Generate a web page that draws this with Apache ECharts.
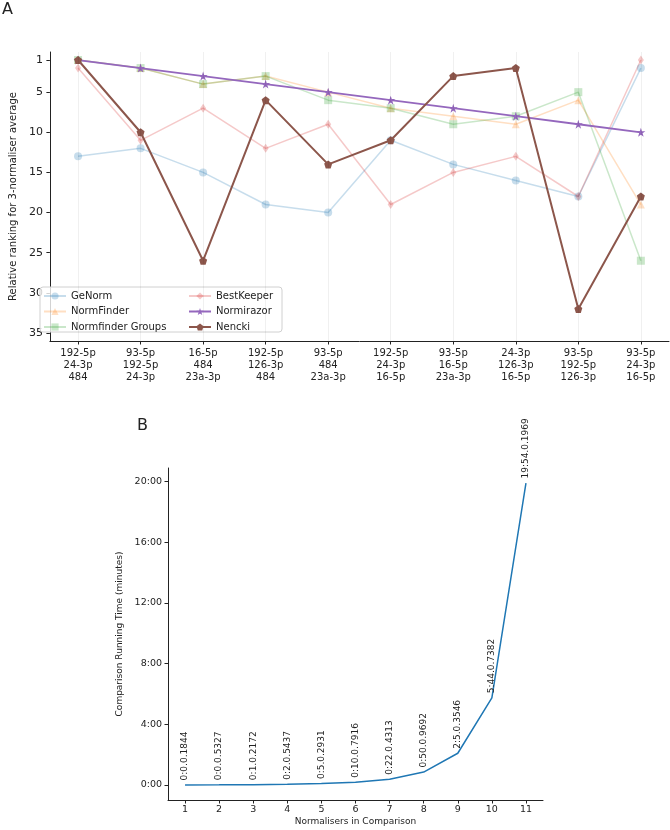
<!DOCTYPE html>
<html><head><meta charset="utf-8">
<script src="https://cdn.jsdelivr.net/npm/echarts@6/dist/echarts.min.js"></script>
<style>html,body{margin:0;padding:0;background:#fff}#c{width:670px;height:830px}</style>
</head><body><div id="c"></div>
<script>
const categories = ['192-5p\n24-3p\n484', '93-5p\n192-5p\n24-3p', '16-5p\n484\n23a-3p', '192-5p\n126-3p\n484', '93-5p\n484\n23a-3p', '192-5p\n24-3p\n16-5p', '93-5p\n16-5p\n23a-3p', '24-3p\n126-3p\n16-5p', '93-5p\n192-5p\n126-3p', '93-5p\n24-3p\n16-5p'];
const geNorm = [13, 12, 15, 19, 20, 11, 14, 16, 18, 2];
const normFinder = [1, 2, 4, 3, 5, 7, 8, 9, 6, 19];
const normfinderGroups = [1, 2, 4, 3, 6, 7, 9, 8, 5, 26];
const bestKeeper = [2, 11, 7, 12, 9, 19, 15, 13, 18, 1];
const normirazor = [1, 2, 3, 4, 5, 6, 7, 8, 9, 10];
const nencki = [1, 10, 26, 6, 14, 11, 3, 2, 32, 18];
const rankTicks = [1, 5, 10, 15, 20, 25, 30, 35];

const normaliserCounts = [1, 2, 3, 4, 5, 6, 7, 8, 9, 10, 11];
const runSeconds = [0.1844, 0.5327, 1.2172, 2.5437, 5.2931, 10.7916, 22.4313, 50.9692, 125.3546, 344.7382, 1194.1969];
const runLabels = ['0:0.0.1844', '0:0.0.5327', '0:1.0.2172', '0:2.0.5437', '0:5.0.2931', '0:10.0.7916', '0:22.0.4313', '0:50.0.9692', '2:5.0.3546', '5:44.0.7382', '19:54.0.1969'];
const timeTicks = [0, 240, 480, 720, 960, 1200];

const FONT = 'DejaVu Sans';
const STAR = 'path://M50,0L61.2,34.5L97.6,34.5L68.2,55.9L79.4,90.5L50,69.1L20.6,90.5L31.8,55.9L2.4,34.5L38.8,34.5Z';
const PENT = 'path://M50,0L97.6,34.5L79.4,90.5L20.6,90.5L2.4,34.5Z';

function rankSeries(name, arr, color, symbol, size, width, faded) {
  return {
    name: name, type: 'line', xAxisIndex: 0, yAxisIndex: 0,
    data: arr.map((v, i) => [i, v]),
    symbol: symbol, symbolSize: size, showSymbol: true,
    lineStyle: { color: color, width: width, opacity: faded ? 0.25 : 1 },
    itemStyle: { color: color, opacity: faded ? 0.25 : 1 },
    emphasis: { disabled: true },
    z: faded ? 2 : 3
  };
}

const series = [
  rankSeries('GeNorm', geNorm, '#1f77b4', 'circle', 8, 1.5, true),
  rankSeries('NormFinder', normFinder, '#ff7f0e', 'triangle', 8, 1.5, true),
  rankSeries('Normfinder Groups', normfinderGroups, '#2ca02c', 'rect', 8, 1.5, true),
  rankSeries('BestKeeper', bestKeeper, '#d62728', 'diamond', [6, 9], 1.5, true),
  rankSeries('Normirazor', normirazor, '#9467bd', STAR, 9, 1.8, false),
  rankSeries('Nencki', nencki, '#8c564b', PENT, 8, 2, false)
];
series[0].markLine = {
  silent: true, symbol: 'none', label: { show: false },
  lineStyle: { color: 'rgba(0,0,0,0.06)', type: 'solid', width: 1 },
  data: categories.map((c, i) => ({ xAxis: i }))
};

series.push({
  name: 'time', type: 'line', xAxisIndex: 1, yAxisIndex: 1,
  data: runSeconds.map((v, i) => [normaliserCounts[i], v]),
  symbol: 'circle', symbolSize: 1, showSymbol: true,
  itemStyle: { color: 'rgba(0,0,0,0)' },
  lineStyle: { color: '#1f77b4', width: 1.5 },
  emphasis: { disabled: true },
  label: {
    show: true, position: 'top', distance: 4, rotate: 90, align: 'left', verticalAlign: 'middle',
    fontFamily: FONT, fontSize: 9, color: '#222',
    formatter: p => runLabels[p.dataIndex]
  }
});

const axisLine = { show: true, onZero: false, lineStyle: { color: '#222', width: 1 } };
const axisTick = { show: true, length: 3.5, lineStyle: { color: '#222', width: 1 } };

const chart = echarts.init(document.getElementById('c'), null, { renderer: 'canvas' });
chart.setOption({
  animation: false,
  backgroundColor: '#fff',
  textStyle: { fontFamily: FONT },
  grid: [
    { left: 35, top: 52, width: 634, height: 289 },
    { left: 168, top: 468, width: 375, height: 332 }
  ],
  xAxis: [
    {
      gridIndex: 0, type: 'value', min: -0.45, max: 9.45,
      axisLine: axisLine, splitLine: { show: false },
      axisTick: Object.assign({ customValues: categories.map((c, i) => i) }, axisTick),
      axisLabel: { customValues: categories.map((c, i) => i), formatter: v => categories[Math.round(v)], fontSize: 10, lineHeight: 12, color: '#222', margin: 6, fontFamily: FONT }
    },
    {
      gridIndex: 1, type: 'value', min: 0.5, max: 11.5,
      axisLine: axisLine, splitLine: { show: false },
      axisTick: Object.assign({ customValues: normaliserCounts }, axisTick),
      axisLabel: { customValues: normaliserCounts, fontSize: 9.5, color: '#222', margin: 5, fontFamily: FONT },
      name: 'Normalisers in Comparison', nameLocation: 'middle', nameGap: 17,
      nameTextStyle: { fontSize: 9, color: '#222', fontFamily: FONT }
    }
  ],
  yAxis: [
    {
      gridIndex: 0, type: 'value', min: 0, max: 36, inverse: true,
      axisLine: axisLine, splitLine: { show: false },
      axisTick: Object.assign({ customValues: rankTicks }, axisTick),
      axisLabel: { customValues: rankTicks, fontSize: 11, color: '#222', margin: 7, fontFamily: FONT },
      name: 'Relative ranking for 3-normaliser average', nameLocation: 'middle', nameGap: 18,
      nameTextStyle: { fontSize: 10, color: '#222', fontFamily: FONT }
    },
    {
      gridIndex: 1, type: 'value', min: -59.6, max: 1253.8,
      axisLine: axisLine, splitLine: { show: false },
      axisTick: Object.assign({ customValues: timeTicks }, axisTick),
      axisLabel: { customValues: timeTicks, formatter: v => (v / 60) + ':00', fontSize: 9.5, color: '#222', margin: 6, fontFamily: FONT },
      name: 'Comparison Running Time (minutes)', nameLocation: 'middle', nameGap: 36,
      nameTextStyle: { fontSize: 9, color: '#222', fontFamily: FONT }
    }
  ],
  legend: [
    {
      data: ['GeNorm', 'NormFinder', 'Normfinder Groups'], orient: 'vertical', left: 43, top: 291,
      itemWidth: 22, itemHeight: 9, itemGap: 5.5, padding: 0, z: 6,
      textStyle: { fontSize: 10, color: '#222', fontFamily: FONT, lineHeight: 9 }, selectedMode: false
    },
    {
      data: ['BestKeeper', 'Normirazor', 'Nencki'], orient: 'vertical', left: 188, top: 291,
      itemWidth: 22, itemHeight: 9, itemGap: 5.5, padding: 0, z: 6,
      textStyle: { fontSize: 10, color: '#222', fontFamily: FONT, lineHeight: 9 }, selectedMode: false
    }
  ],
  graphic: [
    { type: 'rect', z: 5, shape: { x: 40, y: 287, width: 242, height: 45, r: 3 }, style: { fill: 'rgba(255,255,255,0.8)', stroke: '#d0d0d0', lineWidth: 1 } },
    { type: 'text', left: 2, top: 2, style: { text: 'A', fontSize: 16, fill: '#222', fontFamily: FONT } },
    { type: 'text', left: 137, top: 418, style: { text: 'B', fontSize: 16, fill: '#222', fontFamily: FONT } }
  ],
  series: series
});
</script></body></html>
